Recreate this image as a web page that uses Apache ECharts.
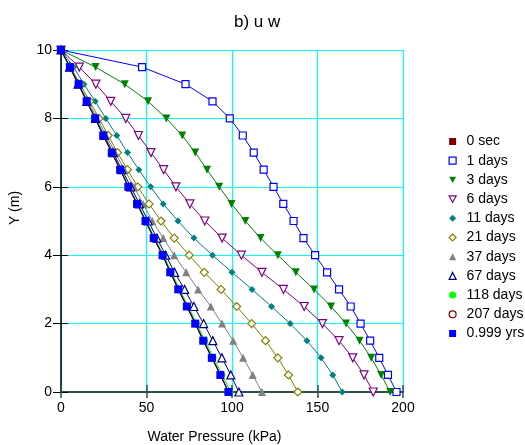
<!DOCTYPE html>
<html><head><meta charset="utf-8">
<script src="https://cdn.jsdelivr.net/npm/echarts@6/dist/echarts.min.js"></script>
<style>html,body{margin:0;padding:0;background:#fff}#c{width:525px;height:445px}</style>
</head><body><div id="c"></div>
<script>
const depths = [10, 9.5, 9, 8.5, 8, 7.5, 7, 6.5, 6, 5.5, 5, 4.5, 4, 3.5, 3, 2.5, 2, 1.5, 1, 0.5, 0];
const seriesNames = ['0 sec', '1 days', '3 days', '6 days', '11 days', '21 days', '37 days', '67 days', '118 days', '207 days', '0.999 yrs'];
const sec0   = [0, 5.2, 10.3, 15, 20, 24.7, 29.7, 34.6, 39.4, 44.5, 49.4, 54.2, 59.4, 63.9, 68.6, 73.6, 78.5, 83.2, 88.2, 93.2, 97.9];
const days1  = [0, 47.4, 72.8, 88.6, 98.7, 106.3, 112.7, 118.5, 124.3, 130, 136, 141.8, 148.6, 155.6, 162.6, 169.4, 175.2, 180.8, 186.1, 191.2, 196.2];
const days3  = [0, 20.2, 37.3, 50.9, 61.6, 70.9, 78.5, 85.4, 92.5, 99.7, 107.8, 116.7, 126.8, 137.3, 148, 157.9, 166.7, 174.6, 181.4, 187.2, 192.5];
const days6  = [0, 10.7, 20.4, 29.1, 37.9, 45.3, 52.6, 60, 67.2, 75.4, 84.1, 94.2, 105.5, 117.5, 130.1, 142.2, 152.9, 162.6, 170.6, 177.2, 182.6];
const days11 = [0, 7.4, 13.4, 20, 26.2, 32.6, 38.9, 45.5, 52.4, 59.8, 68.4, 77.7, 88.6, 100, 111.7, 123.1, 134, 143.8, 152.1, 158.9, 164.5];
const days21 = [0, 5.6, 11.2, 16.8, 22.3, 27.6, 33, 38.9, 44.9, 51.5, 58.5, 66.2, 75, 83.8, 93.6, 102.7, 111.5, 119.6, 126.8, 133, 138.5];
const days37 = [0, 5.2, 10.5, 15.8, 21.1, 26.4, 31.7, 37.1, 42.7, 48, 53.4, 59.8, 66.2, 73.2, 80.2, 87.6, 94.2, 100.7, 106.5, 112.1, 117.5];
const days67 = [0, 5, 10, 15.1, 20.2, 25.3, 30.5, 35.6, 40.8, 45.9, 51, 56.1, 61.2, 66.4, 72.3, 77.7, 83.4, 88.8, 94.1, 99.3, 104];
const days118 = [0, 5.3, 10.4, 15.2, 20.2, 25, 30, 34.9, 39.8, 44.9, 49.9, 54.8, 60, 64.6, 69.4, 74.4, 79.4, 84.2, 89.2, 94.3, 99.2];
const days207 = [0, 5.2, 10.3, 15, 20, 24.8, 29.8, 34.7, 39.5, 44.6, 49.5, 54.4, 59.5, 64.1, 68.8, 73.8, 78.7, 83.4, 88.4, 93.4, 98.1];
const yrs0999 = [0, 5.2, 10.3, 15, 20, 24.7, 29.7, 34.6, 39.4, 44.5, 49.4, 54.2, 59.4, 63.9, 68.6, 73.6, 78.5, 83.2, 88.2, 93.2, 97.9];
const xTicks = [0, 50, 100, 150, 200];
const yTicks = [0, 2, 4, 6, 8, 10];

const allValues = [sec0, days1, days3, days6, days11, days21, days37, days67, days118, days207, yrs0999];
const DOWN_TRI = 'path://M0,0L10,0L5,9Z';
const styles = [
  {c:'#800000', lc:'#800000', sym:'rect', size:7, empty:false},
  {c:'#0000ff', lc:'#0000ff', sym:'rect', size:7, empty:true},
  {c:'#008000', lc:'#008000', sym:'triangle', size:8, empty:false, rot:180, icon: DOWN_TRI},
  {c:'#800080', lc:'#800080', sym:'triangle', size:8, empty:true, rot:180, icon: DOWN_TRI},
  {c:'#008080', lc:'#008080', sym:'diamond', size:7, empty:false},
  {c:'#808000', lc:'#808000', sym:'diamond', size:8, empty:true},
  {c:'#808080', lc:'#808080', sym:'triangle', size:8, empty:false},
  {c:'#000080', lc:'#000080', sym:'triangle', size:8, empty:true},
  {c:'#00ff00', lc:'#00ff00', sym:'circle', size:6, empty:false},
  {c:'#800000', lc:'#800000', sym:'circle', size:6, empty:true},
  {c:'#0000ff', lc:'#00008b', sym:'rect', size:8, empty:false}
];
const FONT = 'Liberation Sans, Arial, sans-serif';

const series = seriesNames.map((n, i) => {
  const s = styles[i];
  return {
    name: n, type: 'line',
    data: allValues[i].map((v, k) => [v, depths[k]]),
    symbol: s.sym, symbolSize: s.size, symbolRotate: s.rot || 0,
    showAllSymbol: true, z: 2 + i,
    lineStyle: {color: s.lc, width: 1},
    itemStyle: s.empty ? {color: '#ffffff', borderColor: s.c, borderWidth: 1.2}
                       : {color: s.c, borderColor: s.c, borderWidth: 0},
    emphasis: {disabled: true},
    animation: false
  };
});

const legendData = seriesNames.map((n, i) => {
  const s = styles[i];
  return {
    name: n, icon: s.icon || s.sym,
    itemStyle: s.empty ? {color: '#ffffff', borderColor: s.c, borderWidth: 1.2}
                       : {color: s.c, borderWidth: 0}
  };
});

const chart = echarts.init(document.getElementById('c'), null, {renderer: 'canvas'});
chart.setOption({
  animation: false,
  backgroundColor: '#fff',
  title: {text: 'b) u w', left: 229, top: 9,
    textStyle: {fontFamily: FONT, fontSize: 17, fontWeight: 'normal', color: '#000'}},
  grid: {left: 61, right: 122, top: 50, bottom: 53, containLabel: false},
  legend: {
    orient: 'vertical', left: 448.5, top: 134.5, padding: 0,
    itemWidth: 7, itemHeight: 7, itemGap: 5.2, symbolKeepAspect: true,
    data: legendData,
    textStyle: {fontFamily: FONT, fontSize: 14, color: '#000', lineHeight: 14, padding: [0, 0, 0, 5.5]},
    selectedMode: false
  },
  xAxis: [{
    type: 'value', min: 0, max: 200, interval: 50,
    axisLine: {show: true, lineStyle: {color: '#2f4f4f', width: 2}},
    axisTick: {show: true, length: 6, lineStyle: {color: '#2f4f4f', width: 1.5}},
    axisLabel: {margin: 9, fontFamily: FONT, fontSize: 14, color: '#000',
      customValues: xTicks, formatter: v => String(v)},
    splitLine: {show: true, lineStyle: {color: '#00ffff', width: 1.2}}
  }, {
    type: 'value', min: 0, max: 200, interval: 50, position: 'bottom',
    axisLine: {show: false},
    axisTick: {show: true, inside: true, length: 7, lineStyle: {color: '#2f4f4f', width: 1.5}},
    axisLabel: {show: false}, splitLine: {show: false}
  }],
  yAxis: [{
    type: 'value', min: 0, max: 10, interval: 2,
    axisLine: {show: true, onZero: false, lineStyle: {color: '#000', width: 1.5}},
    axisTick: {show: true, length: 8, lineStyle: {color: '#000', width: 1}},
    axisLabel: {margin: 9, fontFamily: FONT, fontSize: 14, color: '#000',
      customValues: yTicks, formatter: v => String(v)},
    splitLine: {show: true, lineStyle: {color: '#00ffff', width: 1.2}}
  }, {
    type: 'value', min: 0, max: 10, interval: 2, position: 'left',
    axisLine: {show: false},
    axisTick: {show: true, inside: true, length: 7, lineStyle: {color: '#000', width: 1}},
    axisLabel: {show: false}, splitLine: {show: false}
  }],
  graphic: [
    {type: 'text', x: 214.5, y: 437, style: {text: 'Water Pressure (kPa)', fontFamily: FONT, fontSize: 14, fill: '#000', align: 'center', verticalAlign: 'middle'}},
    {type: 'text', x: 15, y: 208, rotation: Math.PI / 2, style: {text: 'Y (m)', fontFamily: FONT, fontSize: 14, fill: '#000', align: 'center', verticalAlign: 'middle'}}
  ],
  series: series
});
</script></body></html>
